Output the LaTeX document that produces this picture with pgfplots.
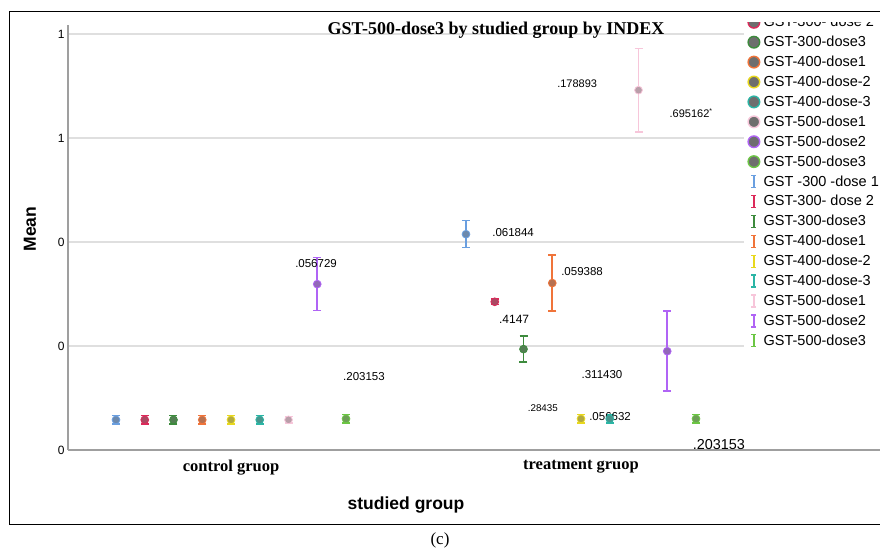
\documentclass[border=0pt]{standalone}
\usepackage{fontspec}
\setmainfont{Liberation Serif}
\setsansfont{Liberation Sans}
\usepackage{pgfplots}
\pgfplotsset{compat=1.18}
\definecolor{c1}{HTML}{6A9FE0}
\definecolor{c2}{HTML}{DC2A5A}
\definecolor{c3}{HTML}{3D8B3D}
\definecolor{c4}{HTML}{F0743A}
\definecolor{c5}{HTML}{E8D81E}
\definecolor{c6}{HTML}{2BB5A5}
\definecolor{c7}{HTML}{F7C6DA}
\definecolor{c8}{HTML}{B064F5}
\definecolor{c9}{HTML}{6CC644}
\definecolor{lgray}{HTML}{6E6E6E}
\pgfplotsset{
 mleg/.style={legend image code/.code={\path (-1pt,0pt) (14pt,0pt);\draw[fill=lgray, draw=#1, line width=1.4pt] (5.5pt,0pt) circle (5.8pt);}},
 eleg/.style={legend image code/.code={\path (-1pt,0pt) (14pt,0pt);\draw[#1, line width=1.3pt] (5.5pt,-6pt) -- (5.5pt,6pt) (3pt,-6pt) -- (8pt,-6pt) (3pt,6pt) -- (8pt,6pt);}},
 dp/.style={only marks, mark=*, mark size=3.9pt, color=#1, forget plot,
   mark options={fill=#1!55!lgray, draw=#1, line width=0.8pt},
   error bars/.cd, y dir=both, y explicit,
   error bar style={line width=1.6pt, draw=#1, color=#1},
   error mark=-,
   error mark options={rotate=90, line width=1.5pt, draw=#1, color=#1, mark size=4pt}}
}
\tikzset{lab/.style={font=\fontsize{11.5}{13}\selectfont\sffamily, inner sep=0pt}}
\begin{document}
\begin{tikzpicture}[x=1pt,y=1pt]
\begin{axis}[at={(68pt,101pt)}, anchor=south west, scale only axis,
  width=812pt, height=425pt,
  xmin=-0.4657, xmax=1.8543, ymin=0, ymax=0.8173, clip=false,
  axis x line*=bottom, axis y line*=left,
  axis line style={-, draw=gray!75, line width=1.3pt},
  ymajorgrids, grid style={gray!25, line width=1.6pt},
  major tick length=0pt,
  ytick={0,0.2,0.4,0.6,0.8}, yticklabels={0,0,0,1,1},
  y tick label style={font=\fontsize{12}{14}\selectfont\sffamily},
  xtick={0,1}, xticklabels={control gruop,treatment gruop},
  x tick label style={font=\fontsize{16.5}{18}\selectfont\bfseries\rmfamily, yshift=-7pt},
  legend style={at={(0.8325,1.028)}, anchor=north west, draw=none, fill=white,
    font=\fontsize{14.5}{16}\selectfont\sffamily, row sep=5.9pt,
    nodes={inner sep=1pt}, cells={anchor=west}},
  legend cell align=left,
]
% data: x = group (0 control, 1 treatment) + offset per dose
\addplot+[dp=c1] coordinates {(-0.3286,0.058) +- (0,0.008) (0.6714,0.415) +- (0,0.026)};
\addplot+[dp=c2] coordinates {(-0.2464,0.058) +- (0,0.008) (0.7536,0.285) +- (0,0.005)};
\addplot+[dp=c3] coordinates {(-0.1643,0.058) +- (0,0.008) (0.8357,0.194) +- (0,0.025)};
\addplot+[dp=c4] coordinates {(-0.0821,0.058) +- (0,0.008) (0.9179,0.321) +- (0,0.054)};
\addplot+[dp=c5] coordinates {(0,0.058) +- (0,0.008) (1.0,0.060) +- (0,0.008)};
\addplot+[dp=c6] coordinates {(0.0821,0.058) +- (0,0.008) (1.0821,0.060) +- (0,0.008)};
\addplot+[dp=c7] coordinates {(0.1643,0.058) +- (0,0.006) (1.1643,0.692) +- (0,0.080)};
\addplot+[dp=c8] coordinates {(0.2464,0.319) +- (0,0.051) (1.2464,0.190) +- (0,0.077)};
\addplot+[dp=c9] coordinates {(0.3286,0.060) +- (0,0.008) (1.3286,0.060) +- (0,0.008)};
% legend
\addlegendimage{mleg=c2}\addlegendentry{GST-300- dose 2}
\addlegendimage{mleg=c3}\addlegendentry{GST-300-dose3}
\addlegendimage{mleg=c4}\addlegendentry{GST-400-dose1}
\addlegendimage{mleg=c5}\addlegendentry{GST-400-dose-2}
\addlegendimage{mleg=c6}\addlegendentry{GST-400-dose-3}
\addlegendimage{mleg=c7}\addlegendentry{GST-500-dose1}
\addlegendimage{mleg=c8}\addlegendentry{GST-500-dose2}
\addlegendimage{mleg=c9}\addlegendentry{GST-500-dose3}
\addlegendimage{eleg=c1}\addlegendentry{GST -300 -dose 1}
\addlegendimage{eleg=c2}\addlegendentry{GST-300- dose 2}
\addlegendimage{eleg=c3}\addlegendentry{GST-300-dose3}
\addlegendimage{eleg=c4}\addlegendentry{GST-400-dose1}
\addlegendimage{eleg=c5}\addlegendentry{GST-400-dose-2}
\addlegendimage{eleg=c6}\addlegendentry{GST-400-dose-3}
\addlegendimage{eleg=c7}\addlegendentry{GST-500-dose1}
\addlegendimage{eleg=c8}\addlegendentry{GST-500-dose2}
\addlegendimage{eleg=c9}\addlegendentry{GST-500-dose3}
% value labels
\node[lab] at (axis cs:0.243,0.358) {.056729};
\node[lab] at (axis cs:0.380,0.142) {.203153};
\node[lab] at (axis cs:0.806,0.419) {.061844};
\node[lab] at (axis cs:1.003,0.344) {.059388};
\node[lab, font=\fontsize{12}{13}\selectfont\sffamily] at (axis cs:0.809,0.252) {.4147};
\node[lab] at (axis cs:1.060,0.146) {.311430};
\node[lab, font=\fontsize{9.8}{11}\selectfont\sffamily] at (axis cs:0.891,0.081) {.28435};
\node[lab] at (axis cs:1.083,0.065) {.056632};
\node[lab, font=\fontsize{14.4}{16}\selectfont\sffamily] at (axis cs:1.394,0.0096) {.203153};
\node[lab, font=\fontsize{11}{13}\selectfont\sffamily] at (axis cs:0.989,0.704) {.178893};
\node[lab, font=\fontsize{11}{13}\selectfont\sffamily] at (axis cs:1.314,0.648) {.695162\raisebox{0.35em}{\scriptsize*}};
\end{axis}
\fill[white] (744,529) rectangle (880,538.5);
\draw[black, line width=1pt] (9,539) rectangle (880,26);
\node[font=\fontsize{18}{20}\selectfont\bfseries\rmfamily] at (496,521) {GST-500-dose3 by studied group by INDEX};
\node[rotate=90, font=\fontsize{17.5}{20}\selectfont\bfseries\sffamily] at (30,322) {Mean};
\node[font=\fontsize{17.5}{20}\selectfont\bfseries\sffamily] at (406,46) {studied group};
\node[font=\fontsize{17}{19}\selectfont\rmfamily] at (440,11) {(c)};
\pgfresetboundingbox
\useasboundingbox (0,0) rectangle (880,551);
\end{tikzpicture}
\end{document}
